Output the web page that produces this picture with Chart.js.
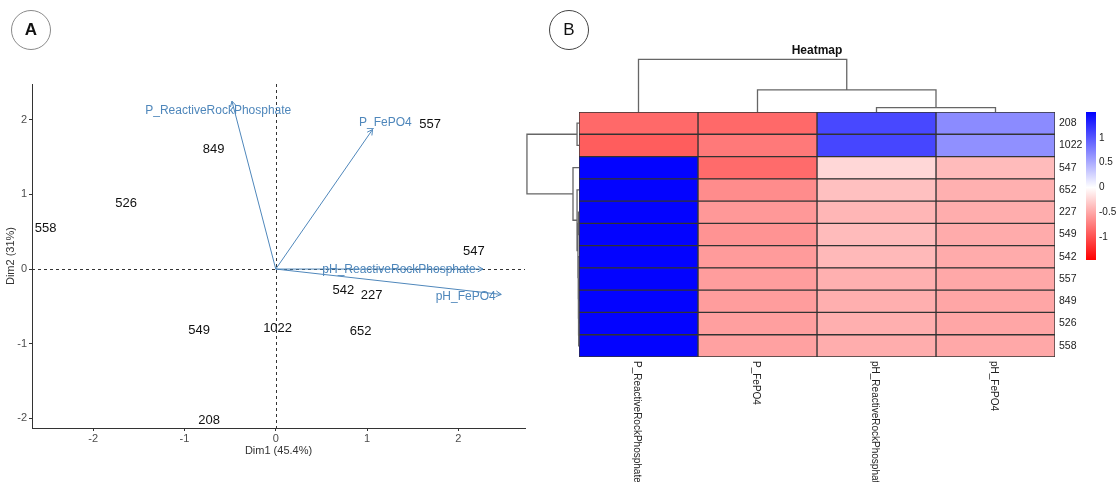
<!DOCTYPE html>
<html>
<head>
<meta charset="utf-8">
<script src="https://cdn.jsdelivr.net/npm/chart.js@4.4.0/dist/chart.umd.min.js"></script>
<style>
  html, body { margin: 0; padding: 0; background: #fff; }
  #wrap { position: relative; width: 1117px; height: 482px; overflow: hidden; font-family: "Liberation Sans", Arial, sans-serif; }
  canvas { position: absolute; left: 0; top: 0; }
  .badge { position: absolute; width: 38px; height: 38px; border-radius: 50%; text-align: center; line-height: 38px; font-size: 17px; color: #111; }
</style>
</head>
<body>
<div id="wrap">
  <canvas id="pca" width="1117" height="482"></canvas>
  <canvas id="heat" width="1117" height="482"></canvas>
  <div class="badge" style="left:11px;top:10px;border:1.5px solid #8a8a8a;font-weight:bold">A</div>
  <div class="badge" style="left:549px;top:10px;border:1px solid #444">B</div>
</div>
<script>
// ---- panel A: PCA biplot ----
const sampleNames = ["558", "526", "849", "557", "547", "542", "227", "652", "1022", "549", "208"];
const dim1 = [-2.52, -1.64, -0.68, 1.69, 2.17, 0.74, 1.05, 0.93, 0.02, -0.84, -0.73];
const dim2 = [0.55, 0.88, 1.60, 1.94, 0.24, -0.29, -0.35, -0.83, -0.80, -0.82, -2.03];

const varNames = ["P_ReactiveRockPhosphate", "P_FePO4", "pH_ReactiveRockPhosphate", "pH_FePO4"];
const varDim1 = [-0.48, 1.06, 2.27, 2.47];
const varDim2 = [2.25, 1.87, 0.0, -0.34];
const varLabelDim1 = [-0.63, 1.20, 1.35, 2.08];
const varLabelDim2 = [2.12, 1.96, -0.01, -0.37];

const pcaXTicks = [-2, -1, 0, 1, 2];
const pcaYTicks = [-2, -1, 0, 1, 2];

// ---- panel B: heatmap ----
const heatCols = ["P_ReactiveRockPhosphate", "P_FePO4", "pH_ReactiveRockPhosphate", "pH_FePO4"];
const heatRows = ["208", "1022", "547", "652", "227", "549", "542", "557", "849", "526", "558"];
const zP_RRP = [-0.86, -0.93, 1.5, 1.5, 1.5, 1.5, 1.5, 1.5, 1.5, 1.5, 1.5];
const zP_FePO4 = [-0.86, -0.77, -0.85, -0.66, -0.59, -0.62, -0.57, -0.56, -0.56, -0.55, -0.54];
const zpH_RRP = [1.09, 1.10, -0.23, -0.36, -0.42, -0.39, -0.40, -0.45, -0.46, -0.46, -0.47];
const zpH_FePO4 = [0.69, 0.66, -0.39, -0.45, -0.47, -0.48, -0.48, -0.50, -0.51, -0.51, -0.50];
const heatValues = [zP_RRP, zP_FePO4, zpH_RRP, zpH_FePO4];

// dendrograms: [left node, right node, height]; leaves first, then merges in order
const colMerges = [[2, 3, 0.29], [1, 4, 1.47], [0, 5, 3.51]];
const rowMerges = [
  [9, 10, 0.02], [8, 11, 0.03], [7, 12, 0.04], [6, 13, 0.05], [4, 5, 0.03],
  [15, 14, 0.07], [3, 16, 0.13], [2, 17, 0.4], [0, 1, 0.13], [19, 18, 3.47]
];

const legendMin = -1.46;
const legendMax = 1.52;
const legendTicks = [1, 0.5, 0, -0.5, -1];

const FONT = "'Liberation Sans', Arial, sans-serif";
const STEEL = "#4f87bb";

function zColor(v) {
  if (v >= 0) {
    const t = Math.min(v / legendMax, 1);
    const c = Math.round(255 * (1 - t));
    return `rgb(${c},${c},255)`;
  }
  const t = Math.min(v / legendMin, 1);
  const c = Math.round(255 * (1 - t));
  return `rgb(255,${c},${c})`;
}

const biplotDecor = {
  id: "biplotDecor",
  beforeDatasetsDraw(chart) {
    const { ctx, chartArea, scales } = chart;
    const x0 = scales.x.getPixelForValue(0);
    const y0 = scales.y.getPixelForValue(0);
    ctx.save();
    ctx.strokeStyle = "#333";
    ctx.lineWidth = 1;
    ctx.setLineDash([3, 3]);
    ctx.beginPath();
    ctx.moveTo(Math.round(x0) + 0.5, chartArea.top);
    ctx.lineTo(Math.round(x0) + 0.5, chartArea.bottom);
    ctx.moveTo(chartArea.left, Math.round(y0) + 0.5);
    ctx.lineTo(chartArea.right, Math.round(y0) + 0.5);
    ctx.stroke();
    ctx.restore();
  },
  afterDatasetsDraw(chart) {
    const { ctx, scales } = chart;
    ctx.save();
    // arrow heads
    ctx.strokeStyle = STEEL;
    ctx.lineWidth = 1;
    for (let i = 0; i < varNames.length; i++) {
      const pts = chart.getDatasetMeta(i + 1).data;
      const a = pts[0], b = pts[1];
      const ang = Math.atan2(b.y - a.y, b.x - a.x);
      ctx.beginPath();
      ctx.moveTo(b.x - 6 * Math.cos(ang - 0.5), b.y - 6 * Math.sin(ang - 0.5));
      ctx.lineTo(b.x, b.y);
      ctx.lineTo(b.x - 6 * Math.cos(ang + 0.5), b.y - 6 * Math.sin(ang + 0.5));
      ctx.stroke();
    }
    // variable labels
    ctx.fillStyle = STEEL;
    ctx.font = "12px " + FONT;
    ctx.textAlign = "center";
    ctx.textBaseline = "middle";
    varNames.forEach((n, i) => {
      ctx.fillText(n, scales.x.getPixelForValue(varLabelDim1[i]), scales.y.getPixelForValue(varLabelDim2[i]));
    });
    // sample labels
    ctx.fillStyle = "#111";
    ctx.font = "13px " + FONT;
    chart.getDatasetMeta(0).data.forEach((el, i) => {
      ctx.fillText(sampleNames[i], el.x, el.y);
    });
    ctx.restore();
  }
};

const axisTicks = { color: "#4d4d4d", font: { size: 11, family: FONT } };

new Chart(document.getElementById("pca"), {
  type: "scatter",
  data: {
    datasets: [
      {
        label: "samples",
        data: sampleNames.map((n, i) => ({ x: dim1[i], y: dim2[i] })),
        pointRadius: 0,
      },
      ...varNames.map((n, i) => ({
        label: n,
        data: [{ x: 0, y: 0 }, { x: varDim1[i], y: varDim2[i] }],
        showLine: true,
        borderColor: STEEL,
        borderWidth: 1,
        pointRadius: 0,
      })),
    ],
  },
  options: {
    responsive: false,
    animation: false,
    devicePixelRatio: 1,
    layout: { padding: { left: 0, top: 84, right: 592, bottom: 24 } },
    plugins: { legend: { display: false }, tooltip: { enabled: false } },
    scales: {
      x: {
        type: "linear",
        min: -2.67,
        max: 2.73,
        afterBuildTicks: (s) => { s.ticks = pcaXTicks.map((v) => ({ value: v })); },
        afterFit: (s) => { s.height = 30; },
        grid: { drawOnChartArea: false, drawTicks: true, tickLength: 3, color: "#333" },
        border: { display: true, color: "#333", width: 1 },
        ticks: { ...axisTicks, padding: 1, maxRotation: 0 },
        title: { display: true, text: "Dim1 (45.4%)", color: "#333", font: { size: 11, family: FONT }, padding: { top: 0, bottom: 0 } },
      },
      y: {
        type: "linear",
        min: -2.13,
        max: 2.48,
        afterBuildTicks: (s) => { s.ticks = pcaYTicks.map((v) => ({ value: v })); },
        afterFit: (s) => { s.width = 32; },
        grid: { drawOnChartArea: false, drawTicks: true, tickLength: 3, color: "#333" },
        border: { display: true, color: "#333", width: 1 },
        ticks: { ...axisTicks, padding: 2 },
        title: { display: true, text: "Dim2 (31%)", color: "#333", font: { size: 11, family: FONT }, padding: { top: 4, bottom: 0 } },
      },
    },
  },
  plugins: [biplotDecor],
});

// ---- heatmap decorations: title, column labels, dendrograms, colour key ----
function drawTree(ctx, leafPos, merges, base, unit, vertical) {
  const pos = leafPos.slice();
  const hgt = leafPos.map(() => 0);
  ctx.beginPath();
  merges.forEach(([a, b, h]) => {
    const p = base - h * unit;
    const pa = base - hgt[a] * unit, pb = base - hgt[b] * unit;
    if (vertical) {
      ctx.moveTo(pos[a], pa); ctx.lineTo(pos[a], p); ctx.lineTo(pos[b], p); ctx.lineTo(pos[b], pb);
    } else {
      ctx.moveTo(pa, pos[a]); ctx.lineTo(p, pos[a]); ctx.lineTo(p, pos[b]); ctx.lineTo(pb, pos[b]);
    }
    pos.push((pos[a] + pos[b]) / 2);
    hgt.push(h);
  });
  ctx.stroke();
}

const heatDecor = {
  id: "heatDecor",
  afterDraw(chart) {
    const { ctx, chartArea, scales } = chart;
    ctx.save();
    // title
    ctx.fillStyle = "#111";
    ctx.font = "bold 12px " + FONT;
    ctx.textAlign = "center";
    ctx.textBaseline = "middle";
    ctx.fillText("Heatmap", (chartArea.left + chartArea.right) / 2 + 0, 51);

    // column labels, rotated
    ctx.font = "10px " + FONT;
    ctx.fillStyle = "#222";
    ctx.textAlign = "left";
    heatCols.forEach((n, j) => {
      ctx.save();
      ctx.translate(scales.x.getPixelForValue(j + 0.5) - 2, chartArea.bottom + 4);
      ctx.rotate(Math.PI / 2);
      ctx.fillText(n, 0, 0);
      ctx.restore();
    });

    // dendrograms
    ctx.strokeStyle = "#666";
    ctx.lineWidth = 1.3;
    const colLeaves = heatCols.map((n, j) => scales.x.getPixelForValue(j + 0.5));
    drawTree(ctx, colLeaves, colMerges, chartArea.top, 15, true);
    const rowLeaves = heatRows.map((n, i) => scales.y.getPixelForValue(i));
    drawTree(ctx, rowLeaves, rowMerges, chartArea.left, 15, false);

    // colour key
    const kx = 1086, kw = 10, ktop = chartArea.top, kh = 148;
    const g = ctx.createLinearGradient(0, ktop, 0, ktop + kh);
    g.addColorStop(0, zColor(legendMax));
    g.addColorStop(legendMax / (legendMax - legendMin), "#ffffff");
    g.addColorStop(1, zColor(legendMin));
    ctx.fillStyle = g;
    ctx.fillRect(kx, ktop, kw, kh);
    ctx.fillStyle = "#222";
    ctx.font = "10px " + FONT;
    ctx.textAlign = "left";
    legendTicks.forEach((v) => {
      ctx.fillText(String(v), kx + kw + 3, ktop + (legendMax - v) / (legendMax - legendMin) * kh);
    });
    ctx.restore();
  }
};

new Chart(document.getElementById("heat"), {
  type: "bar",
  data: {
    labels: heatRows,
    datasets: heatCols.map((name, j) => ({
      label: name,
      data: heatRows.map(() => [j, j + 1]),
      backgroundColor: heatValues[j].map(zColor),
      borderColor: "#333",
      borderWidth: 1,
      borderSkipped: false,
      grouped: false,
      barPercentage: 1,
      categoryPercentage: 1,
    })),
  },
  options: {
    indexAxis: "y",
    responsive: false,
    animation: false,
    devicePixelRatio: 1,
    layout: { padding: { left: 579, top: 112, right: 28, bottom: 125 } },
    plugins: { legend: { display: false }, tooltip: { enabled: false } },
    scales: {
      x: { type: "linear", min: 0, max: 4, display: false },
      y: {
        position: "right",
        grid: { display: false, drawTicks: false, tickLength: 0 },
        border: { display: false },
        ticks: { color: "#222", font: { size: 10.5, family: FONT }, padding: 4 },
        afterFit: (s) => { s.width = 34; },
      },
    },
  },
  plugins: [heatDecor],
});
</script>
</body>
</html>
